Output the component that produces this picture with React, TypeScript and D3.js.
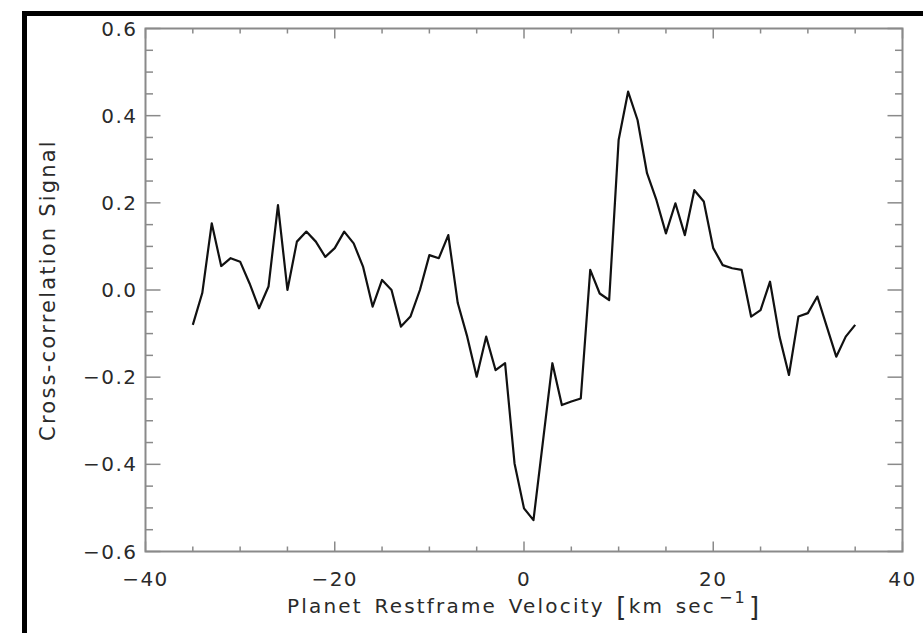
import React from "react";
import * as d3 from "d3";

// cross-correlation signal, one value per km/s from -35 to 35
const velocities = d3.range(-35, 36);
const signal = [
  -0.08, -0.007, 0.153, 0.055, 0.073, 0.065, 0.015, -0.042, 0.008, 0.195,
  0.0, 0.111, 0.134, 0.111, 0.076, 0.096, 0.134, 0.107, 0.053, -0.038,
  0.023, 0.0, -0.084, -0.061, 0.0, 0.08, 0.073, 0.126, -0.03, -0.107,
  -0.199, -0.107, -0.184, -0.168, -0.398, -0.501, -0.528, -0.348, -0.168, -0.264,
  -0.256, -0.249, 0.046, -0.008, -0.023, 0.344, 0.455, 0.39, 0.268, 0.206,
  0.13, 0.199, 0.126, 0.229, 0.203, 0.096, 0.057, 0.05, 0.046, -0.061,
  -0.046, 0.019, -0.107, -0.195, -0.061, -0.053, -0.015, -0.084, -0.153, -0.107,
  -0.08,
];
const xTickLabels = [-40, -20, 0, 20, 40];
const yTickLabels = [-0.6, -0.4, -0.2, 0.0, 0.2, 0.4, 0.6];

const W = 923;
const H = 633;
const left = 145.5;
const right = 902.5;
const top = 28.5;
const bottom = 551.5;

const fmt = (v: number) => (v < 0 ? "\u2212" : "") + Math.abs(v).toString();
const fmtY = (v: number) => (v < 0 ? "\u2212" : "") + Math.abs(v).toFixed(1);

export default function App() {
  const x = d3.scaleLinear().domain([-40, 40]).range([left, right]);
  const y = d3.scaleLinear().domain([-0.6, 0.6]).range([bottom, top]);

  const line = d3
    .line<number>()
    .x((_, i) => x(velocities[i]))
    .y((d) => y(d));

  const xMinor = x.ticks(16);
  const yMinor = y.ticks(24);
  const isMajorX = (v: number) => xTickLabels.some((t) => Math.abs(t - v) < 1e-9);
  const isMajorY = (v: number) => yTickLabels.some((t) => Math.abs(t - v) < 1e-9);

  const axisColor = "#8a8a8a";
  const textColor = "#2a2a2a";
  const font = "'DejaVu Sans', sans-serif";

  return (
    <svg
      width={W}
      height={H}
      style={{ position: "absolute", left: 0, top: 0, background: "#fff" }}
    >
      {/* outer black frame */}
      <rect x={24.5} y={13.5} width={960} height={700} fill="none" stroke="#000" strokeWidth={5} />

      {/* ticks on all four sides */}
      <g stroke={axisColor} strokeWidth={1.5}>
        {xMinor.map((v) => {
          const len = isMajorX(v) ? 10 : 5;
          return (
            <g key={"xt" + v}>
              <line x1={x(v)} x2={x(v)} y1={bottom} y2={bottom - len} />
              <line x1={x(v)} x2={x(v)} y1={top} y2={top + len} />
            </g>
          );
        })}
        {yMinor.map((v) => {
          const len = isMajorY(v) ? 15 : 7.5;
          return (
            <g key={"yt" + v}>
              <line x1={left} x2={left + len} y1={y(v)} y2={y(v)} />
              <line x1={right} x2={right - len} y1={y(v)} y2={y(v)} />
            </g>
          );
        })}
        <rect x={left} y={top} width={right - left} height={bottom - top} fill="none" strokeWidth={2} />
      </g>

      {/* data */}
      <path d={line(signal) ?? ""} fill="none" stroke="#111" strokeWidth={2.2} strokeLinejoin="round" />

      {/* tick labels */}
      <g fill={textColor} fontFamily={font} fontSize={20} letterSpacing={1.5}>
        {xTickLabels.map((v) => (
          <text key={"xl" + v} x={x(v)} y={bottom + 34} textAnchor="middle">
            {fmt(v)}
          </text>
        ))}
        {yTickLabels.map((v) => (
          <text key={"yl" + v} x={left - 8} y={y(v) + 7} textAnchor="end">
            {fmtY(v)}
          </text>
        ))}
      </g>

      {/* axis titles */}
      <text
        x={287}
        y={613}
        fill={textColor}
        fontFamily={font}
        fontSize={20}
        letterSpacing={2.2}
        wordSpacing={3}
      >
        Planet Restframe Velocity <tspan fontSize={26} dy={3}>[</tspan>
        <tspan dy={-3}>km sec</tspan>
        <tspan fontSize={16} dx={3} dy={-10}>{"\u22121"}</tspan>
        <tspan fontSize={26} dx={2} dy={13}>]</tspan>
      </text>
      <text
        transform={`translate(55, ${y(0)}) rotate(-90)`}
        textAnchor="middle"
        fill={textColor}
        fontFamily={font}
        fontSize={21}
        letterSpacing={2.2}
      >
        Cross-correlation Signal
      </text>
    </svg>
  );
}
